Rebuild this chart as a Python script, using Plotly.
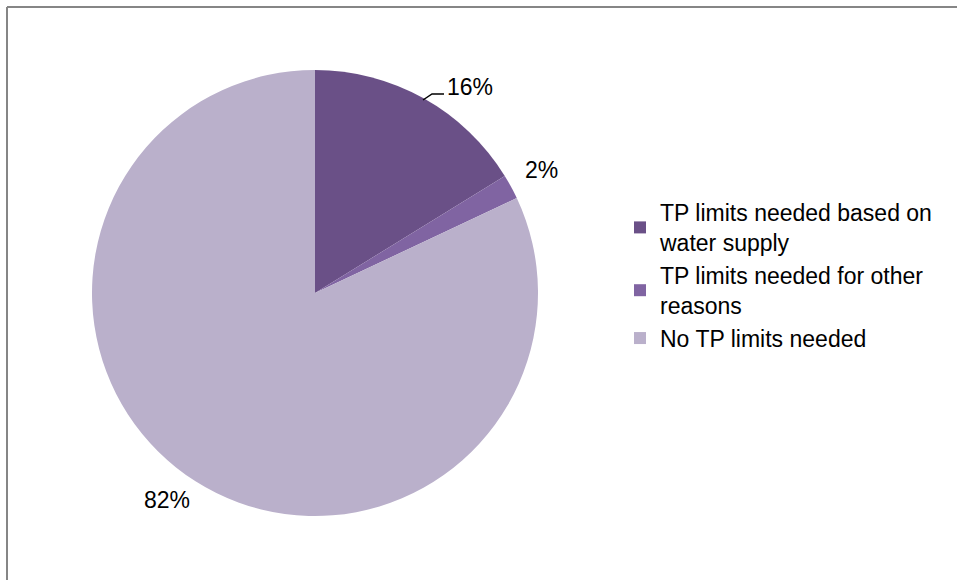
import plotly.graph_objects as go

categories = ["TP limits needed based on<br>water supply",
              "TP limits needed for other<br>reasons",
              "No TP limits needed"]
values = [16.2, 1.8, 82.0]
colors = ["#6A5087", "#8064A2", "#BAB0CB"]

W, H = 957, 580
FONT = "Liberation Sans"
FS = 23

total = sum(values)
labels_txt = [f"{round(v / total * 100)}%" for v in values]

fig = go.Figure()
fig.add_trace(go.Pie(
    labels=categories,
    values=values,
    marker=dict(colors=colors, line=dict(width=0)),
    sort=False,
    direction="clockwise",
    rotation=0,
    textinfo="none",
    hoverinfo="label+percent",
    domain=dict(x=[92 / W, 538 / W], y=[(H - 516) / H, (H - 70) / H]),
))

# percentage labels (positions in pixel space of the figure)
label_pos = [(470, 87), (541, 170), (167, 500)]
for txt, (px, py) in zip(labels_txt, label_pos):
    fig.add_annotation(x=px / W, y=1 - py / H, xref="paper", yref="paper",
                       xanchor="center", yanchor="middle",
                       text=txt, showarrow=False,
                       font=dict(family=FONT, size=FS, color="#000000"))

shapes = [
    # leader line for 16%
    dict(type="path", xref="paper", yref="paper",
         path=f"M {423/W} {1-100/H} L {432/W} {1-94/H} L {444/W} {1-94/H}",
         line=dict(color="#000000", width=1.5)),
    # chart border (top and left visible)
    dict(type="line", xref="paper", yref="paper",
         x0=7 / W, y0=0, x1=7 / W, y1=1 - 7 / H,
         line=dict(color="#868686", width=2)),
    dict(type="line", xref="paper", yref="paper",
         x0=7 / W, y0=1 - 7 / H, x1=1, y1=1 - 7 / H,
         line=dict(color="#868686", width=2)),
]

fig.update_layout(
    width=W, height=H,
    margin=dict(l=0, r=0, t=0, b=0),
    paper_bgcolor="white",
    plot_bgcolor="white",
    font=dict(family=FONT, size=FS, color="#000000"),
    shapes=shapes,
    showlegend=True,
    legend=dict(x=620 / W, y=1 - 191 / H, xanchor="left", yanchor="top",
                font=dict(family=FONT, size=FS, color="#000000"),
                bgcolor="rgba(0,0,0,0)", itemsizing="constant",
                tracegroupgap=0),
)

fig.write_html(
    "out.html",
    config={"displayModeBar": False},
    post_script="document.body.style.margin='0';document.body.style.padding='0';",
)
